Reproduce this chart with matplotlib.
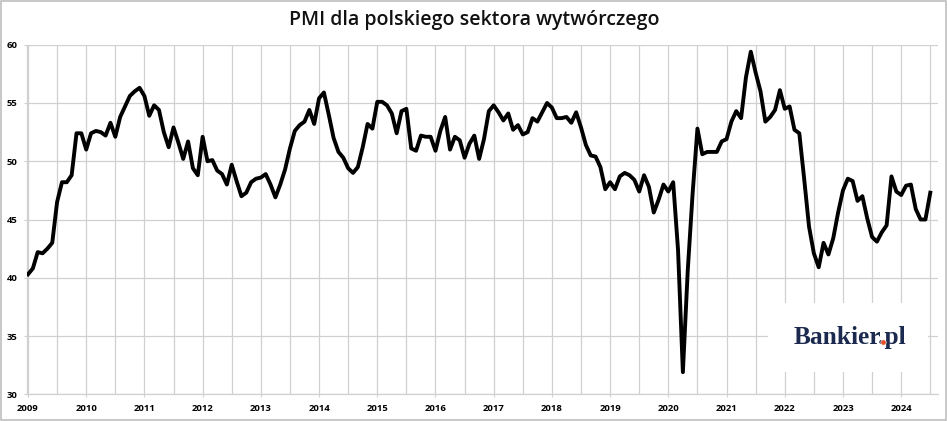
import numpy as np
import matplotlib.pyplot as plt
from matplotlib.patches import Rectangle
from matplotlib.ticker import FixedLocator

# PMI values month by month, Jan 2009 .. Jul 2024
pmi_2009 = [40.3, 40.8, 42.2, 42.1, 42.5, 43.0, 46.5, 48.2, 48.2, 48.8, 52.4, 52.4]
pmi_2010 = [51.0, 52.4, 52.6, 52.5, 52.2, 53.3, 52.1, 53.8, 54.7, 55.6, 56.0, 56.3]
pmi_2011 = [55.6, 53.9, 54.8, 54.4, 52.5, 51.2, 52.9, 51.6, 50.2, 51.7, 49.4, 48.8]
pmi_2012 = [52.1, 50.0, 50.1, 49.2, 48.9, 48.0, 49.7, 48.3, 47.0, 47.3, 48.2, 48.5]
pmi_2013 = [48.6, 48.9, 48.0, 46.9, 48.0, 49.3, 51.1, 52.6, 53.1, 53.4, 54.4, 53.2]
pmi_2014 = [55.4, 55.9, 54.0, 52.0, 50.8, 50.3, 49.4, 49.0, 49.5, 51.2, 53.2, 52.8]
pmi_2015 = [55.1, 55.1, 54.8, 54.1, 52.4, 54.3, 54.5, 51.1, 50.9, 52.2, 52.1, 52.1]
pmi_2016 = [50.9, 52.6, 53.8, 51.0, 52.1, 51.8, 50.3, 51.5, 52.2, 50.2, 51.9, 54.3]
pmi_2017 = [54.8, 54.2, 53.5, 54.1, 52.7, 53.1, 52.3, 52.5, 53.7, 53.4, 54.2, 55.0]
pmi_2018 = [54.6, 53.7, 53.7, 53.8, 53.3, 54.2, 52.9, 51.4, 50.5, 50.4, 49.5, 47.6]
pmi_2019 = [48.2, 47.6, 48.7, 49.0, 48.8, 48.4, 47.4, 48.8, 47.8, 45.6, 46.7, 48.0]
pmi_2020 = [47.4, 48.2, 42.4, 31.9, 40.6, 47.2, 52.8, 50.6, 50.8, 50.8, 50.8, 51.7]
pmi_2021 = [51.9, 53.4, 54.3, 53.7, 57.2, 59.4, 57.6, 56.0, 53.4, 53.8, 54.4, 56.1]
pmi_2022 = [54.5, 54.7, 52.7, 52.4, 48.5, 44.4, 42.1, 40.9, 43.0, 42.0, 43.4, 45.6]
pmi_2023 = [47.5, 48.5, 48.3, 46.6, 47.0, 45.1, 43.5, 43.1, 43.9, 44.5, 48.7, 47.4]
pmi_2024 = [47.1, 47.9, 48.0, 45.9, 45.0, 45.0, 47.3]

years = list(range(2009, 2025))
y_ticks = [30, 35, 40, 45, 50, 55, 60]
title = "PMI dla polskiego sektora wytwórczego"

pmi = (pmi_2009 + pmi_2010 + pmi_2011 + pmi_2012 + pmi_2013 + pmi_2014 +
       pmi_2015 + pmi_2016 + pmi_2017 + pmi_2018 + pmi_2019 + pmi_2020 +
       pmi_2021 + pmi_2022 + pmi_2023 + pmi_2024)
months = np.arange(len(pmi))

plt.rcParams['font.family'] = ['Open Sans', 'DejaVu Sans']

fig = plt.figure(figsize=(9.48, 4.21), dpi=100)
ax = fig.add_axes([0.0285, 0.0634, 0.961, 0.8304])

grid_col = '#d0d0d0'
ax.plot(months, pmi, color='black', lw=2.8, zorder=3)

ax.set_xlim(-0.2, 187.6)
ax.set_ylim(30, 60)
ax.set_yticks(y_ticks)
ax.set_yticklabels([str(v) for v in y_ticks], fontweight='bold', fontsize=6.8)
ax.set_xticks([12 * (y - 2009) for y in years])
ax.set_xticklabels([str(y) for y in years], fontweight='bold', fontsize=6.8)
ax.xaxis.set_minor_locator(FixedLocator([12 * (y - 2009) + 6 for y in years]))

ax.grid(True, which='both', color=grid_col, lw=0.9, zorder=0)
ax.tick_params(axis='both', which='major', length=2.2, color=grid_col)
ax.tick_params(axis='x', which='major', pad=5)
ax.tick_params(axis='y', which='major', pad=4.5)
ax.tick_params(axis='x', which='minor', length=0)

for side in ['top', 'right']:
    ax.spines[side].set_visible(False)
for side in ['left', 'bottom']:
    ax.spines[side].set_color(grid_col)
    ax.spines[side].set_linewidth(0.9)

fig.text(0.5, 0.952, title, ha='center', va='center', fontsize=14,
         fontweight='semibold', color='#111111')

# logo box covering the grid
ax.add_patch(Rectangle((0.813, 0.064), 0.176, 0.197, transform=ax.transAxes,
                       facecolor='white', edgecolor='none', zorder=2))
logo_font = dict(fontsize=18.3, fontweight='bold', family='Liberation Serif')
lx, ly = 0.841, 0.144
logo = ax.text(lx, ly, "Bankier.pl", transform=ax.transAxes, ha='left',
               va='baseline', color='#1b2a4e', zorder=4, **logo_font)

# orange dot on top of the period
renderer = fig.canvas.get_renderer()
tmp = ax.text(lx, ly, "Bankier", transform=ax.transAxes, ha='left',
              va='baseline', **logo_font)
w1 = tmp.get_window_extent(renderer).x1
tmp.set_text("Bankier.")
w2 = tmp.get_window_extent(renderer).x1
tmp.remove()
x0, y0 = ax.transAxes.transform((lx, ly))
dot_x, dot_y = ax.transAxes.inverted().transform(((w1 + w2) / 2, y0 + 2.3))
ax.plot([dot_x], [dot_y], 'o', transform=ax.transAxes, ms=3.9,
        color='#e8502a', mec='white', mew=0.4, zorder=5, clip_on=False)

fig.patches.append(Rectangle((0.001, 0.002), 0.997, 0.995, transform=fig.transFigure,
                             fill=False, edgecolor='#bfbfbf', lw=1.2))

fig.savefig('out.png', dpi=100)
